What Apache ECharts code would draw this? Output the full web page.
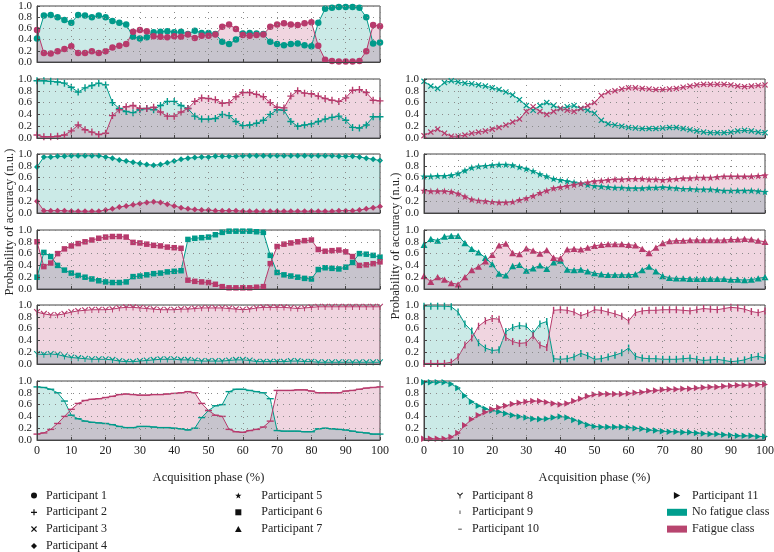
<!DOCTYPE html>
<html>
<head>
<meta charset="utf-8">
<script src="https://cdn.jsdelivr.net/npm/echarts@6/dist/echarts.min.js"></script>
<style>html,body{margin:0;padding:0;background:#fff}#chart{width:774px;height:552px}</style>
</head>
<body>
<div id="chart"></div>
<script>
// ---------- DATA ----------
const phase = [0,2,4,6,8,10,12,14,16,18,20,22,24,26,28,30,32,34,36,38,40,42,44,46,48,50,52,54,56,58,60,62,64,66,68,70,72,74,76,78,80,82,84,86,88,90,92,94,96,98,100];
const xTicks = [0,10,20,30,40,50,60,70,80,90,100];
const yTicks = [0.0,0.2,0.4,0.6,0.8,1.0];

const p1NoFatigue = [0.42,0.83,0.84,0.80,0.75,0.70,0.84,0.83,0.80,0.83,
  0.80,0.73,0.70,0.67,0.45,0.42,0.44,0.53,0.54,0.55,
  0.53,0.54,0.50,0.56,0.52,0.52,0.50,0.36,0.32,0.40,
  0.51,0.52,0.51,0.50,0.36,0.32,0.30,0.32,0.33,0.30,
  0.28,0.70,0.95,0.97,0.98,0.98,0.98,0.97,0.80,0.33,0.35];
const p1Fatigue = [0.57,0.16,0.15,0.19,0.23,0.28,0.16,0.16,0.19,0.16,
  0.19,0.26,0.29,0.32,0.54,0.57,0.55,0.46,0.45,0.44,
  0.46,0.45,0.49,0.43,0.47,0.47,0.49,0.63,0.67,0.59,
  0.48,0.47,0.48,0.49,0.63,0.67,0.69,0.67,0.66,0.69,
  0.71,0.29,0.04,0.02,0.01,0.01,0.01,0.02,0.19,0.66,0.64];

const p2NoFatigue = [0.97,0.97,0.96,0.95,0.93,0.86,0.78,0.85,0.89,0.93,
  0.90,0.60,0.50,0.45,0.43,0.48,0.50,0.48,0.55,0.62,
  0.62,0.55,0.50,0.37,0.32,0.32,0.33,0.40,0.38,0.28,
  0.21,0.22,0.25,0.30,0.40,0.48,0.47,0.28,0.20,0.22,
  0.24,0.28,0.32,0.35,0.37,0.30,0.18,0.17,0.22,0.36,0.36];
const p2Fatigue = [0.05,0.02,0.02,0.03,0.05,0.12,0.22,0.14,0.10,0.06,
  0.08,0.38,0.48,0.53,0.55,0.50,0.50,0.52,0.44,0.37,
  0.37,0.44,0.50,0.62,0.68,0.67,0.65,0.59,0.60,0.70,
  0.77,0.77,0.74,0.70,0.60,0.52,0.51,0.71,0.80,0.76,
  0.75,0.71,0.67,0.64,0.62,0.68,0.81,0.82,0.77,0.64,0.63];

const p3NoFatigue = [0.96,0.88,0.84,0.94,0.97,0.95,0.93,0.92,0.90,0.88,
  0.85,0.82,0.78,0.73,0.65,0.55,0.47,0.55,0.60,0.55,
  0.50,0.53,0.55,0.50,0.47,0.42,0.30,0.24,0.22,0.20,
  0.18,0.17,0.16,0.16,0.16,0.17,0.18,0.18,0.16,0.14,
  0.12,0.10,0.09,0.09,0.09,0.10,0.12,0.13,0.12,0.10,0.09];
const p3Fatigue = [0.04,0.10,0.15,0.08,0.03,0.03,0.05,0.08,0.10,0.12,
  0.15,0.18,0.22,0.27,0.32,0.45,0.53,0.45,0.40,0.45,
  0.50,0.47,0.45,0.50,0.55,0.60,0.72,0.78,0.80,0.83,
  0.85,0.85,0.84,0.83,0.82,0.82,0.83,0.84,0.86,0.88,
  0.90,0.91,0.91,0.91,0.91,0.90,0.88,0.87,0.88,0.89,0.90];

const p4NoFatigue = [0.78,0.95,0.95,0.96,0.96,0.97,0.97,0.97,0.97,0.97,
  0.95,0.93,0.90,0.88,0.86,0.84,0.82,0.81,0.82,0.85,
  0.88,0.91,0.93,0.94,0.95,0.95,0.96,0.96,0.96,0.96,
  0.97,0.97,0.97,0.97,0.97,0.97,0.97,0.97,0.97,0.97,
  0.97,0.97,0.97,0.97,0.96,0.96,0.96,0.95,0.93,0.91,0.89];
const p4Fatigue = [0.20,0.04,0.04,0.04,0.04,0.03,0.03,0.03,0.03,0.03,
  0.05,0.07,0.10,0.12,0.14,0.16,0.18,0.19,0.18,0.15,
  0.12,0.09,0.07,0.06,0.05,0.05,0.04,0.04,0.04,0.04,
  0.03,0.03,0.03,0.03,0.03,0.03,0.03,0.03,0.03,0.03,
  0.03,0.03,0.03,0.03,0.04,0.04,0.04,0.05,0.07,0.09,0.11];

const p5NoFatigue = [0.62,0.62,0.63,0.63,0.64,0.67,0.72,0.77,0.79,0.80,
  0.81,0.82,0.82,0.81,0.78,0.75,0.71,0.66,0.62,0.58,
  0.56,0.54,0.52,0.50,0.48,0.46,0.45,0.44,0.43,0.43,
  0.42,0.42,0.42,0.43,0.43,0.44,0.43,0.42,0.41,0.41,
  0.40,0.40,0.40,0.39,0.38,0.38,0.38,0.38,0.38,0.37,0.36];
const p5Fatigue = [0.38,0.37,0.37,0.37,0.36,0.33,0.28,0.23,0.21,0.20,
  0.19,0.18,0.18,0.19,0.22,0.25,0.29,0.34,0.38,0.42,
  0.44,0.46,0.48,0.50,0.52,0.54,0.55,0.56,0.57,0.57,
  0.58,0.58,0.58,0.57,0.57,0.56,0.57,0.58,0.59,0.59,
  0.60,0.60,0.60,0.61,0.62,0.62,0.62,0.62,0.62,0.63,0.64];

const p6NoFatigue = [0.20,0.62,0.55,0.40,0.32,0.27,0.23,0.20,0.17,0.14,
  0.12,0.11,0.11,0.12,0.21,0.22,0.24,0.26,0.27,0.29,
  0.30,0.31,0.84,0.86,0.87,0.88,0.92,0.96,0.98,0.98,
  0.98,0.98,0.97,0.96,0.57,0.28,0.24,0.22,0.20,0.18,
  0.17,0.33,0.36,0.35,0.34,0.37,0.45,0.60,0.59,0.57,0.54];
const p6Fatigue = [0.80,0.38,0.44,0.60,0.68,0.73,0.77,0.80,0.83,0.86,
  0.88,0.89,0.89,0.88,0.79,0.78,0.76,0.74,0.73,0.71,
  0.70,0.69,0.15,0.13,0.12,0.11,0.08,0.04,0.02,0.02,
  0.02,0.02,0.03,0.04,0.43,0.72,0.76,0.78,0.80,0.82,
  0.83,0.67,0.64,0.65,0.66,0.63,0.55,0.40,0.41,0.43,0.46];

const p7NoFatigue = [0.75,0.85,0.82,0.89,0.90,0.90,0.78,0.68,0.62,0.53,
  0.42,0.26,0.23,0.39,0.41,0.31,0.35,0.40,0.34,0.45,
  0.48,0.33,0.32,0.33,0.30,0.27,0.25,0.24,0.24,0.24,
  0.24,0.25,0.32,0.38,0.30,0.22,0.19,0.18,0.18,0.17,
  0.17,0.17,0.17,0.17,0.17,0.16,0.16,0.15,0.16,0.18,0.20];
const p7Fatigue = [0.22,0.12,0.20,0.16,0.10,0.08,0.20,0.32,0.38,0.47,
  0.58,0.74,0.77,0.61,0.59,0.69,0.65,0.60,0.66,0.53,
  0.52,0.67,0.68,0.67,0.70,0.73,0.75,0.76,0.76,0.76,
  0.75,0.74,0.68,0.61,0.70,0.78,0.81,0.82,0.82,0.83,
  0.83,0.83,0.83,0.83,0.83,0.84,0.84,0.85,0.84,0.82,0.80];

const p8NoFatigue = [0.17,0.16,0.17,0.16,0.13,0.11,0.10,0.09,0.08,0.08,
  0.08,0.07,0.05,0.04,0.04,0.05,0.06,0.07,0.08,0.08,
  0.08,0.07,0.07,0.06,0.05,0.05,0.05,0.05,0.06,0.07,
  0.07,0.06,0.04,0.04,0.04,0.04,0.04,0.05,0.05,0.04,
  0.04,0.03,0.03,0.03,0.03,0.03,0.03,0.03,0.03,0.03,0.03];
const p8Fatigue = [0.88,0.85,0.83,0.83,0.85,0.88,0.90,0.91,0.92,0.92,
  0.92,0.93,0.95,0.96,0.96,0.95,0.94,0.93,0.92,0.92,
  0.92,0.93,0.93,0.94,0.95,0.95,0.95,0.95,0.94,0.93,
  0.92,0.93,0.95,0.96,0.96,0.96,0.96,0.95,0.94,0.95,
  0.96,0.97,0.97,0.97,0.97,0.97,0.97,0.97,0.97,0.97,0.97];

const p9NoFatigue = [0.98,0.98,0.98,0.98,0.97,0.88,0.68,0.56,0.36,0.27,
  0.23,0.24,0.55,0.62,0.65,0.64,0.52,0.68,0.72,0.09,
  0.08,0.09,0.12,0.18,0.14,0.08,0.09,0.12,0.15,0.19,
  0.27,0.13,0.10,0.09,0.09,0.08,0.08,0.08,0.09,0.10,
  0.08,0.06,0.07,0.08,0.06,0.04,0.05,0.07,0.11,0.13,0.10];
const p9Fatigue = [0.01,0.01,0.01,0.01,0.03,0.12,0.32,0.44,0.64,0.73,
  0.77,0.76,0.45,0.38,0.35,0.36,0.48,0.32,0.28,0.91,
  0.92,0.91,0.88,0.82,0.86,0.92,0.91,0.88,0.85,0.81,
  0.73,0.87,0.90,0.91,0.91,0.92,0.92,0.92,0.91,0.90,
  0.92,0.94,0.93,0.92,0.94,0.96,0.95,0.93,0.89,0.87,0.90];

const p10NoFatigue = [0.90,0.89,0.86,0.80,0.66,0.42,0.36,0.32,0.30,0.29,
  0.28,0.26,0.23,0.21,0.21,0.23,0.23,0.22,0.21,0.21,
  0.20,0.19,0.17,0.20,0.38,0.50,0.58,0.60,0.82,0.86,
  0.86,0.84,0.82,0.80,0.70,0.16,0.15,0.15,0.15,0.14,
  0.14,0.19,0.20,0.19,0.18,0.17,0.15,0.13,0.12,0.10,0.10];
const p10Fatigue = [0.10,0.12,0.18,0.28,0.40,0.52,0.62,0.67,0.69,0.70,
  0.72,0.74,0.77,0.78,0.77,0.76,0.76,0.77,0.77,0.78,
  0.79,0.80,0.82,0.80,0.62,0.50,0.42,0.40,0.18,0.14,
  0.13,0.16,0.18,0.22,0.32,0.84,0.84,0.84,0.85,0.85,
  0.83,0.80,0.80,0.80,0.80,0.83,0.84,0.86,0.88,0.89,0.90];

const p11NoFatigue = [0.98,0.98,0.98,0.98,0.95,0.88,0.75,0.65,0.58,0.53,
  0.50,0.48,0.45,0.42,0.40,0.38,0.36,0.35,0.36,0.38,
  0.40,0.38,0.34,0.30,0.26,0.23,0.22,0.22,0.22,0.22,
  0.21,0.20,0.19,0.17,0.16,0.15,0.14,0.14,0.13,0.13,
  0.12,0.11,0.10,0.10,0.09,0.08,0.07,0.07,0.07,0.06,0.06];
const p11Fatigue = [0.02,0.02,0.02,0.02,0.05,0.12,0.25,0.35,0.42,0.47,
  0.52,0.55,0.58,0.61,0.63,0.65,0.66,0.66,0.64,0.62,
  0.60,0.62,0.66,0.70,0.74,0.77,0.78,0.78,0.78,0.78,
  0.79,0.80,0.81,0.83,0.84,0.85,0.86,0.86,0.87,0.87,
  0.88,0.89,0.90,0.90,0.91,0.92,0.93,0.93,0.93,0.94,0.94];

const participantNames = ['Participant 1','Participant 2','Participant 3','Participant 4','Participant 5','Participant 6','Participant 7','Participant 8','Participant 9','Participant 10','Participant 11'];
const classNames = ['No fatigue class','Fatigue class'];

// ---------- STYLE / LAYOUT ----------
const FONT = 'Liberation Serif';
const TEAL = '#009a8a', PINK = '#b73a6c';
const TEAL_AREA = 'rgba(0,154,138,0.29)', PINK_AREA = 'rgba(183,58,108,0.30)';
const SYM = {
  circle: 'circle',
  plus: 'path://M4,0H6V4H10V6H6V10H4V6H0V4H4Z',
  cross: 'path://M1.4,0L5,3.6L8.6,0L10,1.4L6.4,5L10,8.6L8.6,10L5,6.4L1.4,10L0,8.6L3.6,5L0,1.4Z',
  diamond: 'path://M5,0L10,5L5,10L0,5Z',
  star: 'path://M5,0L6.18,3.38L9.76,3.45L6.9,5.62L7.94,9.05L5,7L2.06,9.05L3.1,5.62L0.24,3.45L3.82,3.38Z',
  square: 'path://M0,0H10V10H0Z',
  triangle: 'path://M5,0L10,9L0,9Z',
  triDown: 'path://M0,1.2L1.2,0L5,3.8L8.8,0L10,1.2L5.7,5.5L5.7,10L4.3,10L4.3,5.5Z',
  vbar: 'path://M0,0H2V10H0Z',
  dash: 'path://M0,0H10V2H0Z',
  rtri: 'path://M0,0L9,5L0,10Z'
};
const LEG = {
  vbar: 'path://M0,0L0,0.01ZM10,10L10,9.99ZM4.4,2H5.6V8H4.4Z',
  dash: 'path://M0,0L0,0.01ZM10,10L10,9.99ZM2,4.3H8V5.7H2Z'
};
const colLeft = [37, 424], colWidth = [343, 341];
const rowTop = [6, 79, 154, 230, 305, 381];
const rowH = [56, 59, 59, 59, 59, 59];

const panels = [
  {nf: p1NoFatigue,  f: p1Fatigue,  col: 0, row: 0, sym: SYM.circle,   size: 6.5},
  {nf: p2NoFatigue,  f: p2Fatigue,  col: 0, row: 1, sym: SYM.plus,     size: 7},
  {nf: p3NoFatigue,  f: p3Fatigue,  col: 1, row: 1, sym: SYM.cross,    size: 6},
  {nf: p4NoFatigue,  f: p4Fatigue,  col: 0, row: 2, sym: SYM.diamond,  size: 6},
  {nf: p5NoFatigue,  f: p5Fatigue,  col: 1, row: 2, sym: SYM.star,     size: 7.5},
  {nf: p6NoFatigue,  f: p6Fatigue,  col: 0, row: 3, sym: SYM.square,   size: 5.5},
  {nf: p7NoFatigue,  f: p7Fatigue,  col: 1, row: 3, sym: SYM.triangle, size: 7},
  {nf: p8NoFatigue,  f: p8Fatigue,  col: 0, row: 4, sym: SYM.triDown,  size: 6.5},
  {nf: p9NoFatigue,  f: p9Fatigue,  col: 1, row: 4, sym: SYM.vbar,     size: 7},
  {nf: p10NoFatigue, f: p10Fatigue, col: 0, row: 5, sym: SYM.dash,     size: 7},
  {nf: p11NoFatigue, f: p11Fatigue, col: 1, row: 5, sym: SYM.rtri,     size: 6.5}
];

const grids = [], xAxes = [], yAxes = [], series = [];
const dotted = {color: '#8a8a8a', width: 1, type: [1, 5]};
panels.forEach((p, i) => {
  const bottom = p.row === 5;
  grids.push({left: colLeft[p.col], top: rowTop[p.row], width: colWidth[p.col], height: rowH[p.row],
    show: true, borderColor: '#444', borderWidth: 1, backgroundColor: 'transparent', outerBoundsMode: 'none', containLabel: false});
  xAxes.push({gridIndex: i, type: 'value', min: xTicks[0], max: xTicks[xTicks.length-1], interval: 10,
    axisLine: {show: true, onZero: false, lineStyle: {color: '#444', width: 1}},
    axisTick: {show: true, inside: true, length: 3, lineStyle: {color: '#444'}},
    axisLabel: {show: bottom, fontFamily: FONT, fontSize: 12, color: '#222', margin: 5, interval: 0, hideOverlap: false, showMinLabel: true, showMaxLabel: true},
    splitLine: {show: true, lineStyle: dotted},
    name: bottom ? 'Acquisition phase (%)' : '', nameLocation: 'middle', nameGap: 31,
    nameTextStyle: {fontFamily: FONT, fontSize: 12.5, color: '#222'}, z: 5});
  yAxes.push({gridIndex: i, type: 'value', min: yTicks[0], max: yTicks[yTicks.length-1], interval: 0.2,
    axisLine: {show: true, lineStyle: {color: '#444', width: 1}},
    axisTick: {show: true, inside: true, length: 3, lineStyle: {color: '#444'}},
    axisLabel: {fontFamily: FONT, fontSize: 11, lineHeight: 10, color: '#222', margin: 5, interval: 0, hideOverlap: false,
      showMinLabel: true, showMaxLabel: true, formatter: v => v.toFixed(1)},
    splitLine: {show: true, lineStyle: dotted}, z: 5});
  const common = {type: 'line', xAxisIndex: i, yAxisIndex: i, symbol: p.sym, symbolSize: p.size,
    symbolKeepAspect: true, showAllSymbol: true, silent: true, animation: false};
  series.push(Object.assign({}, common, {name: 'nf' + i,
    data: phase.map((x, k) => [x, p.nf[k]]),
    itemStyle: {color: TEAL}, lineStyle: {color: TEAL, width: 1}, areaStyle: {color: TEAL_AREA, origin: 'start'}}));
  series.push(Object.assign({}, common, {name: 'f' + i,
    data: phase.map((x, k) => [x, p.f[k]]),
    itemStyle: {color: PINK}, lineStyle: {color: PINK, width: 1}, areaStyle: {color: PINK_AREA, origin: 'start'}}));
});

// legend-only series
const legendSyms = [SYM.circle, SYM.plus, SYM.cross, SYM.diamond, SYM.star, SYM.square, SYM.triangle, SYM.triDown, LEG.vbar, LEG.dash, SYM.rtri];
participantNames.forEach((n, k) => series.push({type: 'line', name: n, data: [], symbol: legendSyms[k], itemStyle: {color: '#111'}, lineStyle: {color: '#111'}, xAxisIndex: 0, yAxisIndex: 0}));
series.push({type: 'line', name: classNames[0], data: [], itemStyle: {color: '#009e8e'}, xAxisIndex: 0, yAxisIndex: 0});
series.push({type: 'line', name: classNames[1], data: [], itemStyle: {color: '#b8456f'}, xAxisIndex: 0, yAxisIndex: 0});

const legText = {fontFamily: FONT, fontSize: 12, color: '#222', lineHeight: 13};
const legBase = {orient: 'vertical', top: 489, height: 72, padding: 0, itemGap: 3.8, itemHeight: 6, itemWidth: 14,
  selectedMode: false, textStyle: legText, symbolRotate: 0};
const item = k => ({name: participantNames[k], icon: legendSyms[k]});
const legends = [
  Object.assign({}, legBase, {left: 31, data: [item(0), item(1), item(2), item(3)]}),
  Object.assign({}, legBase, {left: 235, textStyle: Object.assign({}, legText, {padding: [0, 0, 0, 11]}), data: [item(4), item(5), item(6)]}),
  Object.assign({}, legBase, {left: 457, data: [item(7), item(8), item(9)]}),
  Object.assign({}, legBase, {left: 667, itemWidth: 20, itemHeight: 7, data: [
    {name: participantNames[10], icon: SYM.rtri},
    {name: classNames[0], icon: 'rect'},
    {name: classNames[1], icon: 'rect'}]})
];

const chart = echarts.init(document.getElementById('chart'), null, {renderer: 'canvas'});
chart.setOption({
  animation: false,
  backgroundColor: '#fff',
  grid: grids, xAxis: xAxes, yAxis: yAxes, series: series, legend: legends,
  graphic: [
    {type: 'text', x: 10, y: 222, rotation: Math.PI / 2,
     style: {text: 'Probability of accuracy (n.u.)', fontFamily: FONT, fontSize: 12.5, fill: '#222', align: 'center', verticalAlign: 'middle', textAlign: 'center', textVerticalAlign: 'middle'}},
    {type: 'text', x: 396, y: 246, rotation: Math.PI / 2,
     style: {text: 'Probability of accuracy (n.u.)', fontFamily: FONT, fontSize: 12.5, fill: '#222', align: 'center', verticalAlign: 'middle', textAlign: 'center', textVerticalAlign: 'middle'}}
  ]
});
</script>
</body>
</html>
